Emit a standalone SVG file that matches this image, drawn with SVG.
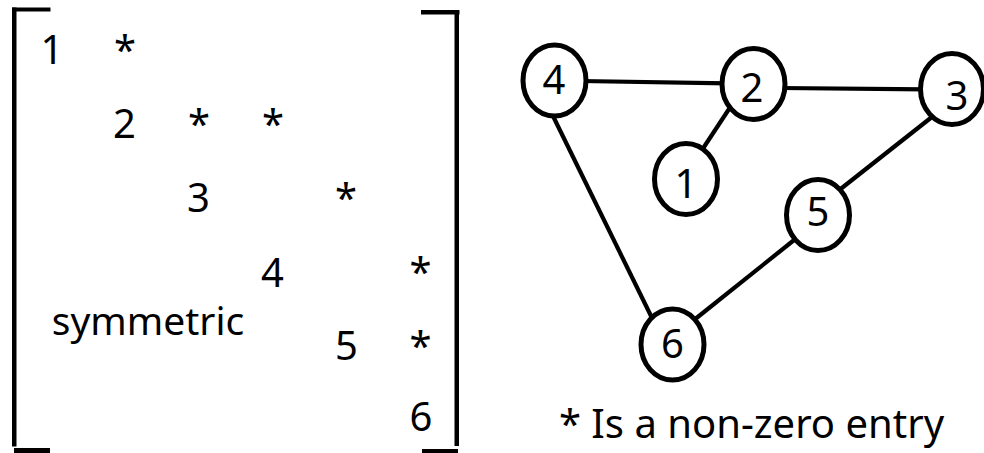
<svg xmlns="http://www.w3.org/2000/svg" width="984" height="453" viewBox="0 0 984 453">
<style>
  text { font-family: "Noto Sans", "Open Sans", "Liberation Sans", sans-serif; font-size: 40px; fill: #000; text-anchor: middle; }
  .node ellipse { fill: #fff; stroke: #000; stroke-width: 5; }
  .edge { stroke: #000; stroke-width: 4.2; stroke-linecap: butt; fill: none; }
  .br { fill: #000; }
</style>
<rect width="984" height="453" fill="#fff"/>
<g id="matrix">
  <rect class="br" x="12" y="7.5" width="38.5" height="4"/>
  <rect class="br" x="12" y="7.5" width="4.5" height="439"/>
  <rect class="br" x="14" y="448" width="36" height="5"/>
  <rect class="br" x="421" y="10" width="38.5" height="4.5"/>
  <rect class="br" x="454.5" y="10" width="4.5" height="436"/>
  <rect class="br" x="422" y="449" width="36" height="4"/>
  <text x="52" y="64">1</text>
  <text x="125" y="64">*</text>
  <text x="124.5" y="138">2</text>
  <text x="199" y="138">*</text>
  <text x="273" y="138">*</text>
  <text x="198.5" y="212">3</text>
  <text x="346" y="212">*</text>
  <text x="272.5" y="287">4</text>
  <text x="420.5" y="286">*</text>
  <text x="148" y="335" style="font-size:39px">symmetric</text>
  <text x="346.5" y="360">5</text>
  <text x="420.5" y="360">*</text>
  <text x="421" y="431">6</text>
</g>
<g id="connectors">
  <line class="edge" x1="580" y1="81" x2="728" y2="83.3"/>
  <line class="edge" x1="780" y1="88" x2="926" y2="89.3"/>
  <line class="edge" x1="730" y1="107.5" x2="701" y2="151.5"/>
  <line class="edge" x1="937" y1="113" x2="838" y2="191"/>
  <line class="edge" x1="551.5" y1="113" x2="652.5" y2="319"/>
  <line class="edge" x1="796" y1="238.5" x2="694" y2="320"/>
</g>
<g id="node-4" class="node"><ellipse cx="554.5" cy="80.5" rx="31.5" ry="35.5"/><text x="554" y="94">4</text></g>
<g id="node-2" class="node"><ellipse cx="753.5" cy="84" rx="31.5" ry="35.5"/><text x="752" y="102">2</text></g>
<g id="node-3" class="node"><ellipse cx="952" cy="89" rx="31.5" ry="35.5"/><text x="957" y="110">3</text></g>
<g id="node-1" class="node"><ellipse cx="686" cy="179" rx="31.5" ry="35.5"/><text x="686" y="198">1</text></g>
<g id="node-5" class="node"><ellipse cx="818" cy="215" rx="31.5" ry="35.5"/><text x="818" y="226">5</text></g>
<g id="node-6" class="node"><ellipse cx="672.5" cy="344.5" rx="31.5" ry="35.5"/><text x="672.5" y="358">6</text></g>
<text id="legend" x="751.5" y="438">* Is a non-zero entry</text>
</svg>
